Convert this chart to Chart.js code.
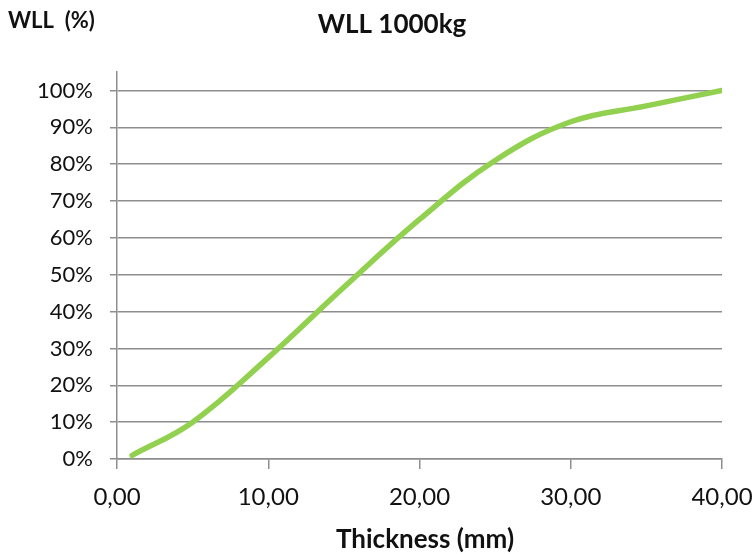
<!DOCTYPE html>
<html>
<head>
<meta charset="utf-8">
<script src="https://cdn.jsdelivr.net/npm/chart.js@4"></script>
<style>
  html, body { margin: 0; padding: 0; background: #fff; }
  #wrap { width: 753px; height: 554px; }
</style>
</head>
<body>
<div id="wrap"><canvas id="wllChart" width="753" height="554"></canvas></div>
<script>
const thickness = [1, 5, 10, 15, 20, 25, 30, 35, 40];
const wllPercent = [1, 10, 27.5, 46.6, 65, 81, 91.5, 95.8, 100];
const xTicks = [0, 10, 20, 30, 40];
const yTicks = [0, 10, 20, 30, 40, 50, 60, 70, 80, 90, 100];

const FONT = 'Lato, "Open Sans", sans-serif';
const GRID = '#8e8e8e';

// free-standing texts: unit label top left, title, x axis caption
const labelsPlugin = {
  id: 'labels',
  afterDraw(chart) {
    const ctx = chart.ctx;
    ctx.save();
    ctx.fillStyle = '#111';
    ctx.textBaseline = 'alphabetic';
    ctx.font = 'bold 22px ' + FONT;
    ctx.textAlign = 'left';
    ctx.fillText('WLL  (%)', 8, 28);
    ctx.font = 'bold 26px ' + FONT;
    ctx.textAlign = 'center';
    ctx.fillText('WLL 1000kg', 392, 33);
    ctx.fillText('Thickness (mm)', 425, 548);
    ctx.restore();
  }
};

new Chart(document.getElementById('wllChart'), {
  type: 'line',
  data: {
    datasets: [{
      data: thickness.map((x, i) => ({ x: x, y: wllPercent[i] })),
      borderColor: '#92D050',
      borderWidth: 5.5,
      borderCapStyle: 'round',
      pointRadius: 0,
      tension: 0.4,
      fill: false
    }]
  },
  options: {
    responsive: false,
    animation: false,
    layout: { padding: { top: 72, right: 31, left: 0, bottom: 0 } },
    plugins: { legend: { display: false }, tooltip: { enabled: false } },
    scales: {
      x: {
        type: 'linear',
        min: 0,
        max: 40,
        afterBuildTicks: s => { s.ticks = xTicks.map(v => ({ value: v })); },
        afterFit: s => { s.height = 95; s.paddingRight = 0; s.paddingLeft = 0; },
        border: { color: GRID, width: 1.5 },
        grid: { drawOnChartArea: false, drawTicks: true, tickLength: 10, color: GRID, lineWidth: 1.5 },
        ticks: {
          padding: 14,
          color: '#111',
          font: { family: FONT, size: 24 },
          callback: v => v.toFixed(2).replace('.', ',')
        }
      },
      y: {
        min: 0,
        max: 105,
        afterBuildTicks: s => { s.ticks = yTicks.map(v => ({ value: v })); },
        afterFit: s => { s.width = 117; },
        border: { color: GRID, width: 1.5 },
        grid: { color: GRID, lineWidth: 1.5, tickLength: 7 },
        ticks: {
          padding: 17,
          color: '#111',
          font: { family: FONT, size: 22 },
          callback: v => v + '%'
        }
      }
    }
  },
  plugins: [labelsPlugin]
});
</script>
</body>
</html>
